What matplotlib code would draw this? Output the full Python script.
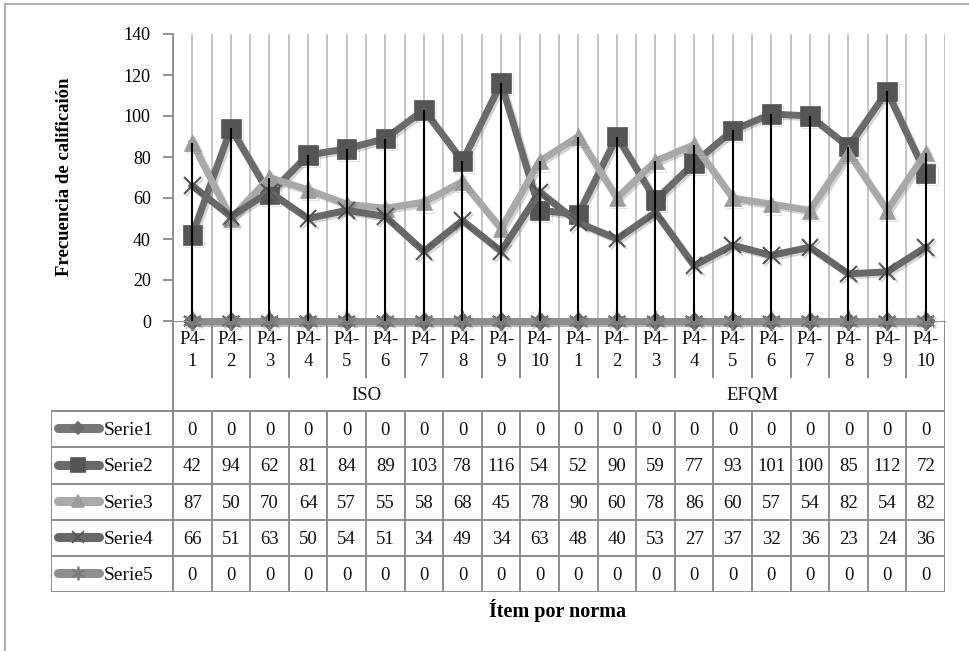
import matplotlib.pyplot as plt
import matplotlib.patheffects as pe
import numpy as np

# --- data ---
normas = ["ISO", "EFQM"]
items = ["1", "2", "3", "4", "5", "6", "7", "8", "9", "10"]
serie_names = ["Serie1", "Serie2", "Serie3", "Serie4", "Serie5"]

serie1 = [0] * 20
serie2 = [42, 94, 62, 81, 84, 89, 103, 78, 116, 54,
          52, 90, 59, 77, 93, 101, 100, 85, 112, 72]
serie3 = [87, 50, 70, 64, 57, 55, 58, 68, 45, 78,
          90, 60, 78, 86, 60, 57, 54, 82, 54, 82]
serie4 = [66, 51, 63, 50, 54, 51, 34, 49, 34, 63,
          48, 40, 53, 27, 37, 32, 36, 23, 24, 36]
serie5 = [0] * 20
series = [serie1, serie2, serie3, serie4, serie5]

yticks = [0, 20, 40, 60, 80, 100, 120, 140]

# --- estilos ---
FONT = "Liberation Serif"
line_colors = ["#777777", "#6b6b6b", "#a9a9a9", "#686868", "#8e8e8e"]
marker_colors = ["#6a6a6a", "#555555", "#9c9c9c", "#555555", "#7a7a7a"]
markers = ["D", "s", "^", "x", (6, 2, 0)]
msizes = [9, 14, 12, 12, 14]
grid_c = "#c4c4c4"
tab_c = "#8c8c8c"

W, H = 970, 651
fig = plt.figure(figsize=(W / 100, H / 100), dpi=100)

def fx(px):
    return px / W

def fy(py):
    return 1 - py / H

# marco del grafico
fig.add_artist(plt.Line2D([fx(5), fx(5)], [fy(4), 0], color="#b0b0b0", lw=1.5))
fig.add_artist(plt.Line2D([fx(5), 1], [fy(4), fy(4)], color="#b0b0b0", lw=1.5))

x0, x1, ytop, y0 = 173, 945, 34, 321
ax = fig.add_axes([fx(x0), fy(y0), fx(x1 - x0), (y0 - ytop) / H])
n = len(serie2)
xs = np.arange(n) + 0.5
ax.set_xlim(0, n)
ax.set_ylim(0, 140)

# lineas de division verticales
for gx in np.arange(0.5, n + 0.01, 0.5):
    ax.axvline(gx, color=grid_c, lw=1.4, zorder=0)

shadow = [pe.SimpleLineShadow(offset=(1.5, -1.5), shadow_color="#555555", alpha=0.25),
          pe.Normal()]
for i, s in enumerate(series):
    ax.plot(xs, s, color=line_colors[i], lw=5, marker=markers[i], markersize=msizes[i],
            markerfacecolor=marker_colors[i], markeredgecolor=marker_colors[i],
            markeredgewidth=1.5 if i in (3, 4) else 0.5, solid_joinstyle="miter",
            path_effects=shadow, zorder=2 + i, clip_on=False)

# lineas de maximos y minimos
tops = np.max(np.array(series), axis=0)
bots = np.min(np.array(series), axis=0)
ax.vlines(xs, bots, tops, color="black", lw=1.5, zorder=10)

for side in ["top", "right"]:
    ax.spines[side].set_visible(False)
ax.spines["left"].set_color("#909090")
ax.spines["left"].set_linewidth(1.4)
ax.spines["bottom"].set_color("#909090")
ax.set_xticks([])
ax.set_yticks(yticks)
ax.set_yticklabels([str(t) for t in yticks], fontfamily=FONT, fontsize=13)
ax.tick_params(axis="y", direction="out", length=7, width=1.4, color="#909090", pad=9)

fig.text(fx(65), fy(177), "Frecuencia de calificaión", rotation=90, ha="center",
         va="center", fontfamily=FONT, fontweight="bold", fontsize=13.5)
fig.text(fx(558), fy(611), "Ítem por norma", ha="center", va="center",
         fontfamily=FONT, fontweight="bold", fontsize=14.5)

# --- tabla de datos ---
xl = 51
rows = [321, 378, 411, 447, 484, 520, 556, 592]
tax = fig.add_axes([fx(xl), fy(rows[-1]), fx(x1 - xl), (rows[-1] - rows[0]) / H])
cw = (x1 - x0) / n
left = -(x0 - xl) / cw
tax.set_xlim(left, n)
tax.set_ylim(rows[-1], rows[0])
tax.axis("off")

lk = dict(color=tab_c, lw=1.4, solid_capstyle="butt")
# fila de categorias
for k in range(n + 1):
    tax.plot([k, k], [rows[0], rows[1]], **lk)
# fila de normas
for k in [0, n // 2, n]:
    tax.plot([k, k], [rows[1], rows[2]], **lk)
# filas de series
for r in rows[2:]:
    tax.plot([left, n], [r, r], **lk)
for k in range(n + 1):
    tax.plot([k, k], [rows[2], rows[-1]], **lk)
tax.plot([left, left], [rows[2], rows[-1]], **lk)

tk = dict(fontfamily=FONT, fontsize=13.5, ha="center", va="center", color="#111111")
for k in range(n):
    tax.text(k + 0.5, (rows[0] + rows[1]) / 2 + 1, "P4-\n" + items[k % 10],
             linespacing=1.45, **tk)
for j, nm in enumerate(normas):
    tax.text(j * 10 + 5, (rows[1] + rows[2]) / 2 + 1, nm, **tk)

for i, s in enumerate(series):
    yc = (rows[2 + i] + rows[3 + i]) / 2 + 1
    for k, v in enumerate(s):
        tax.text(k + 0.5, yc, str(v), **tk)
    # muestra de leyenda
    sx = [(58 - x0) / cw, (99 - x0) / cw]
    tax.plot(sx, [yc - 2, yc - 2], color=line_colors[i], lw=6.5, solid_capstyle="round")
    tax.plot([(78 - x0) / cw], [yc - 2], marker=markers[i], markersize=msizes[i] * 0.7,
             color=marker_colors[i], markeredgewidth=1.2)
    tax.text((104 - x0) / cw, yc, serie_names[i], fontfamily=FONT, fontsize=14,
             ha="left", va="center", color="#111111")

fig.savefig("out.png", dpi=100)
